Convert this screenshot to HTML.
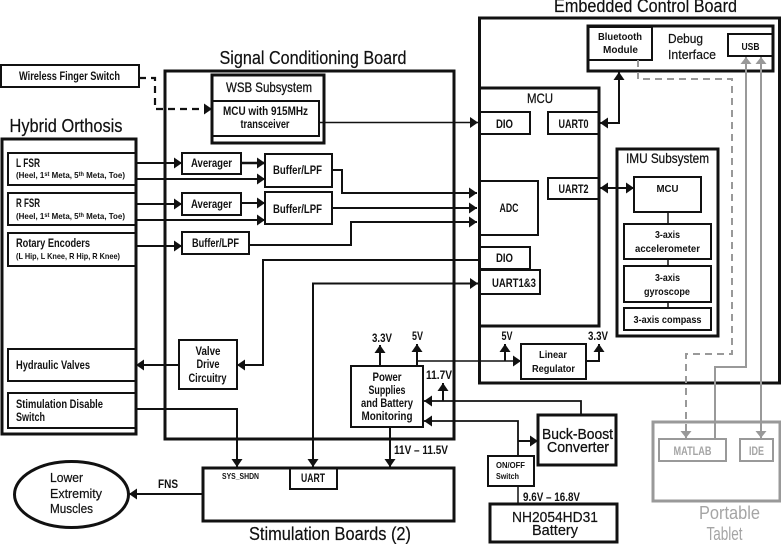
<!DOCTYPE html>
<html><head><meta charset="utf-8"><style>
html,body{margin:0;padding:0;background:#fff}
svg{display:block;filter:blur(.3px)}
text{font-family:"Liberation Sans",sans-serif;fill:#111;text-anchor:middle}
.s{font-size:10.500px;font-weight:bold}
.m{font-size:11.500px;font-weight:bold}
.t{font-size:18px;stroke:#111;stroke-width:.2px}
.l{font-size:14px;stroke:#111;stroke-width:.25px}
.g{fill:#a5a5a5;stroke:none}
rect,ellipse{fill:none;stroke:#111}
polyline{fill:none;stroke:#111}
.gr{stroke:#999}
</style></head><body>
<svg width="781" height="544" viewBox="0 0 781 544" xmlns="http://www.w3.org/2000/svg">
<defs>
<marker id="a" markerUnits="userSpaceOnUse" markerWidth="10" markerHeight="12" refX="8" refY="5.5" orient="auto"><path d="M0 0L8 5.5L0 11Z" fill="#111"/></marker>
<marker id="b" markerUnits="userSpaceOnUse" markerWidth="10" markerHeight="12" refX="0" refY="5.5" orient="auto"><path d="M8 0L0 5.5L8 11Z" fill="#111"/></marker>
<marker id="g" markerUnits="userSpaceOnUse" markerWidth="12" markerHeight="12" refX="7" refY="5.5" orient="auto"><path d="M0 0L7 5.5L0 11Z" fill="#999"/></marker>
<marker id="h" markerUnits="userSpaceOnUse" markerWidth="12" markerHeight="12" refX="0" refY="5.5" orient="auto"><path d="M7 0L0 5.5L7 11Z" fill="#999"/></marker>
</defs>

<!-- major boards -->
<rect x="479.500" y="18" width="300" height="365" stroke-width="3"/>
<rect x="165" y="71" width="289" height="368" stroke-width="3"/>
<rect x="2" y="139" width="134" height="295" stroke-width="3"/>

<!-- left column -->
<rect x="1" y="65" width="138" height="22" stroke-width="2"/>
<rect x="8" y="153" width="128" height="32" stroke-width="2"/>
<rect x="8" y="193" width="128" height="32" stroke-width="2"/>
<rect x="8" y="233" width="128" height="33" stroke-width="2"/>
<rect x="8" y="349" width="128" height="32" stroke-width="2"/>
<rect x="8" y="393" width="128" height="35" stroke-width="2"/>

<!-- signal conditioning -->
<rect x="212" y="75" width="112" height="68" stroke-width="3"/>
<rect x="212" y="101" width="107" height="35" stroke-width="2"/>
<rect x="182" y="153" width="59" height="21" stroke-width="2"/>
<rect x="265" y="154" width="67" height="33" stroke-width="2"/>
<rect x="182" y="193" width="59" height="22" stroke-width="2"/>
<rect x="265" y="192" width="67" height="32" stroke-width="2"/>
<rect x="182" y="232" width="67" height="22" stroke-width="2"/>
<rect x="179" y="340" width="58" height="49" stroke-width="2"/>
<rect x="351" y="366" width="72" height="61" stroke-width="2"/>

<!-- stim -->
<rect x="203" y="468" width="251" height="53" stroke-width="3"/>
<rect x="290" y="468" width="47" height="21" stroke-width="2"/>
<ellipse cx="71.500" cy="494.500" rx="57" ry="33" stroke-width="3"/>

<!-- embedded -->
<rect x="479.500" y="88" width="119.500" height="238" stroke-width="3"/>
<rect x="479.500" y="112" width="50.500" height="22" stroke-width="2"/>
<rect x="548" y="112" width="51" height="22" stroke-width="2"/>
<rect x="548" y="178" width="51" height="21" stroke-width="2"/>
<rect x="479.500" y="181" width="58.500" height="54" stroke-width="2"/>
<rect x="479.500" y="247" width="50.500" height="22" stroke-width="2"/>
<rect x="479.500" y="270" width="60.500" height="24" stroke-width="2"/>
<rect x="588" y="26" width="185" height="45" stroke-width="3"/>
<rect x="588" y="27" width="64" height="33" stroke-width="2"/>
<rect x="728" y="34" width="45" height="22" stroke-width="2"/>
<rect x="617" y="149" width="101" height="187" stroke-width="3"/>
<rect x="634" y="177" width="67" height="35" stroke-width="2"/>
<rect x="624" y="224" width="87" height="35" stroke-width="2"/>
<rect x="624" y="266" width="87" height="36" stroke-width="2"/>
<rect x="624" y="308" width="87" height="22" stroke-width="2"/>
<polyline points="668,212 668,224" stroke-width="1.500"/>
<polyline points="668,259 668,266" stroke-width="1.500"/>
<polyline points="668,302 668,308" stroke-width="1.500"/>
<rect x="521" y="344" width="65" height="35" stroke-width="2"/>

<!-- power -->
<rect x="538" y="415" width="78" height="50" stroke-width="3"/>
<rect x="488" y="456" width="46" height="30" stroke-width="2"/>
<rect x="490" y="504" width="127" height="38" stroke-width="3"/>

<!-- tablet -->
<rect class="gr" x="653" y="422" width="127" height="79" stroke-width="3"/>
<rect class="gr" x="659" y="439" width="67" height="22" stroke-width="2"/>
<rect class="gr" x="740" y="439" width="33" height="22" stroke-width="2"/>

<!-- connectors -->
<polyline points="139,78 155,78 155,109 212,109" stroke-width="2.200" stroke-dasharray="7 5" marker-end="url(#a)"/>
<polyline points="319,122.500 478,122.500" stroke-width="1.500" marker-end="url(#a)"/>
<polyline points="136,163 182,163" stroke-width="2" marker-end="url(#a)"/>
<polyline points="136,179 265,179" stroke-width="2" marker-end="url(#a)"/>
<polyline points="241,163 265,163" stroke-width="2.500" marker-end="url(#a)"/>
<polyline points="136,204 182,204" stroke-width="2" marker-end="url(#a)"/>
<polyline points="241,203 265,203" stroke-width="2" marker-end="url(#a)"/>
<polyline points="136,220 265,220" stroke-width="2" marker-end="url(#a)"/>
<polyline points="136,246 182,246" stroke-width="2" marker-end="url(#a)"/>
<polyline points="332,170 342,170 342,193 477,193" stroke-width="2" marker-end="url(#a)"/>
<polyline points="332,208 477,208" stroke-width="2" marker-end="url(#a)"/>
<polyline points="249,245 351,245 351,222 477,222" stroke-width="2" marker-end="url(#a)"/>
<polyline points="479,260 263,260 263,365 237,365" stroke-width="2" marker-end="url(#a)"/>
<polyline points="179,365 136,365" stroke-width="2" marker-end="url(#a)"/>
<polyline points="478,283.500 313,283.500 313,467" stroke-width="2" marker-start="url(#b)" marker-end="url(#a)"/>
<polyline points="136,409 237,409 237,467" stroke-width="2" marker-end="url(#a)"/>
<polyline points="203,494 129,494" stroke-width="2" marker-end="url(#a)"/>
<polyline points="380,366 380,345" stroke-width="2" marker-end="url(#a)"/>
<polyline points="417,366 417,344" stroke-width="2" marker-end="url(#a)"/>
<polyline points="417,361 521,361" stroke-width="1.500" marker-end="url(#a)"/>
<polyline points="505,361 505,344" stroke-width="2" marker-end="url(#a)"/>
<polyline points="586,361 599,361 599,344" stroke-width="2" marker-end="url(#a)"/>
<polyline points="443,401 443,383" stroke-width="2" marker-end="url(#a)"/>
<polyline points="581,415 581,401 424,401" stroke-width="1.800" marker-end="url(#a)"/>
<polyline points="518,456 518,421 424,421" stroke-width="1.800" marker-end="url(#a)"/>
<polyline points="518,441 538,441" stroke-width="2" marker-end="url(#a)"/>
<polyline points="518,486 518,504" stroke-width="1.500"/>
<polyline points="390,427 390,467" stroke-width="2" marker-end="url(#a)"/>
<polyline points="600,123 619,123 619,72" stroke-width="2" marker-start="url(#b)" marker-end="url(#a)"/>
<polyline points="600,188 634,188" stroke-width="2" marker-start="url(#b)" marker-end="url(#a)"/>
<polyline class="gr" points="638,60 638,79 732,79 732,354 686,354 686,438" stroke-width="2" stroke-dasharray="7 5" marker-end="url(#g)"/>
<polyline class="gr" points="715,438 715,367 746,367 746,57" stroke-width="2" marker-end="url(#g)"/>
<polyline class="gr" points="761,57 761,438" stroke-width="2" marker-start="url(#h)" marker-end="url(#g)"/>

<!-- titles -->
<text class="t" x="313" y="64" textLength="187" lengthAdjust="spacingAndGlyphs">Signal Conditioning Board</text>
<text class="t" x="645.500" y="12" textLength="183" lengthAdjust="spacingAndGlyphs">Embedded Control Board</text>
<text class="t" x="66" y="132" textLength="113" lengthAdjust="spacingAndGlyphs">Hybrid Orthosis</text>
<text class="t" x="330" y="540" textLength="162" lengthAdjust="spacingAndGlyphs">Stimulation Boards (2)</text>
<text class="t g" x="729.500" y="519" textLength="61" lengthAdjust="spacingAndGlyphs">Portable</text>
<text class="t g" x="724.500" y="540" textLength="36" lengthAdjust="spacingAndGlyphs">Tablet</text>

<!-- left column labels -->
<text class="m" x="69.500" y="80" textLength="101" lengthAdjust="spacingAndGlyphs">Wireless Finger Switch</text>
<text class="m" x="28" y="167" textLength="24" lengthAdjust="spacingAndGlyphs">L FSR</text>
<text x="70.500" y="178" font-size="8.500" font-weight="bold" textLength="109" lengthAdjust="spacingAndGlyphs">(Heel, 1<tspan font-size="6" dy="-2">st</tspan><tspan dy="2"> Meta, 5</tspan><tspan font-size="6" dy="-2">th</tspan><tspan dy="2"> Meta, Toe)</tspan></text>
<text class="m" x="28" y="207" textLength="24" lengthAdjust="spacingAndGlyphs">R FSR</text>
<text x="70.500" y="219" font-size="8.500" font-weight="bold" textLength="109" lengthAdjust="spacingAndGlyphs">(Heel, 1<tspan font-size="6" dy="-2">st</tspan><tspan dy="2"> Meta, 5</tspan><tspan font-size="6" dy="-2">th</tspan><tspan dy="2"> Meta, Toe)</tspan></text>
<text class="m" x="53" y="247" textLength="74" lengthAdjust="spacingAndGlyphs">Rotary Encoders</text>
<text x="68" y="259" font-size="8.500" font-weight="bold" textLength="104" lengthAdjust="spacingAndGlyphs">(L Hip, L Knee, R Hip, R Knee)</text>
<text class="m" x="53" y="369" textLength="74" lengthAdjust="spacingAndGlyphs">Hydraulic Valves</text>
<text class="m" x="59.500" y="408" textLength="87" lengthAdjust="spacingAndGlyphs">Stimulation Disable</text>
<text class="m" x="30.500" y="421" textLength="29" lengthAdjust="spacingAndGlyphs">Switch</text>

<!-- signal board labels -->
<text class="l" x="269" y="92" textLength="86" lengthAdjust="spacingAndGlyphs">WSB Subsystem</text>
<text class="m" x="265.500" y="115" textLength="85" lengthAdjust="spacingAndGlyphs">MCU with 915MHz</text>
<text class="m" x="265" y="128" textLength="49" lengthAdjust="spacingAndGlyphs">transceiver</text>
<text class="m" x="211.500" y="167" textLength="41" lengthAdjust="spacingAndGlyphs">Averager</text>
<text class="m" x="297.500" y="174" textLength="49" lengthAdjust="spacingAndGlyphs">Buffer/LPF</text>
<text class="m" x="211.500" y="208" textLength="41" lengthAdjust="spacingAndGlyphs">Averager</text>
<text class="m" x="297.500" y="213" textLength="49" lengthAdjust="spacingAndGlyphs">Buffer/LPF</text>
<text class="m" x="215.500" y="247" textLength="47" lengthAdjust="spacingAndGlyphs">Buffer/LPF</text>
<text class="m" x="208" y="355" textLength="25" lengthAdjust="spacingAndGlyphs">Valve</text>
<text class="m" x="208" y="368" textLength="23" lengthAdjust="spacingAndGlyphs">Drive</text>
<text class="m" x="207.500" y="382" textLength="38" lengthAdjust="spacingAndGlyphs">Circuitry</text>
<text class="m" x="387" y="381" textLength="29" lengthAdjust="spacingAndGlyphs">Power</text>
<text class="m" x="387" y="394" textLength="37" lengthAdjust="spacingAndGlyphs">Supplies</text>
<text class="m" x="387" y="407" textLength="52" lengthAdjust="spacingAndGlyphs">and Battery</text>
<text class="m" x="387" y="420" textLength="51" lengthAdjust="spacingAndGlyphs">Monitoring</text>
<text class="m" x="382" y="342" textLength="20" lengthAdjust="spacingAndGlyphs">3.3V</text>
<text class="m" x="417.500" y="340" textLength="11" lengthAdjust="spacingAndGlyphs">5V</text>
<text class="m" x="439" y="379" textLength="26" lengthAdjust="spacingAndGlyphs">11.7V</text>
<text class="m" x="421" y="454" textLength="54" lengthAdjust="spacingAndGlyphs">11V – 11.5V</text>

<!-- stim labels -->
<text x="240.500" y="479" font-size="8.500" font-weight="bold" textLength="37" lengthAdjust="spacingAndGlyphs">SYS_SHDN</text>
<text class="m" x="313" y="482" textLength="24" lengthAdjust="spacingAndGlyphs">UART</text>
<text class="m" x="168" y="488" textLength="20" lengthAdjust="spacingAndGlyphs">FNS</text>
<text x="66.500" y="482" font-size="13" stroke="#111" stroke-width=".2" textLength="33" lengthAdjust="spacingAndGlyphs">Lower</text>
<text x="76" y="498" font-size="13" stroke="#111" stroke-width=".2" textLength="52" lengthAdjust="spacingAndGlyphs">Extremity</text>
<text x="71.500" y="513" font-size="13" stroke="#111" stroke-width=".2" textLength="43" lengthAdjust="spacingAndGlyphs">Muscles</text>

<!-- embedded labels -->
<text class="l" x="540" y="103" textLength="26" lengthAdjust="spacingAndGlyphs">MCU</text>
<text class="m" x="504.500" y="128" textLength="17" lengthAdjust="spacingAndGlyphs">DIO</text>
<text class="m" x="573.500" y="128" textLength="30" lengthAdjust="spacingAndGlyphs">UART0</text>
<text class="m" x="573.500" y="193" textLength="30" lengthAdjust="spacingAndGlyphs">UART2</text>
<text class="m" x="509" y="212" textLength="19" lengthAdjust="spacingAndGlyphs">ADC</text>
<text class="m" x="504.500" y="262" textLength="17" lengthAdjust="spacingAndGlyphs">DIO</text>
<text class="m" x="514" y="287" textLength="44" lengthAdjust="spacingAndGlyphs">UART1&amp;3</text>
<text class="s" x="620" y="40" textLength="44" lengthAdjust="spacingAndGlyphs">Bluetooth</text>
<text class="s" x="620.500" y="53" textLength="35" lengthAdjust="spacingAndGlyphs">Module</text>
<text x="685.500" y="43" font-size="13" stroke="#111" stroke-width=".2" textLength="35" lengthAdjust="spacingAndGlyphs">Debug</text>
<text x="692" y="59" font-size="13" stroke="#111" stroke-width=".2" textLength="48" lengthAdjust="spacingAndGlyphs">Interface</text>
<text class="s" x="750.500" y="50" textLength="18" lengthAdjust="spacingAndGlyphs">USB</text>
<text class="l" x="667.500" y="163" textLength="83" lengthAdjust="spacingAndGlyphs">IMU Subsystem</text>
<text class="s" x="667.500" y="192" textLength="22" lengthAdjust="spacingAndGlyphs">MCU</text>
<text class="s" x="667.500" y="238" textLength="25" lengthAdjust="spacingAndGlyphs">3-axis</text>
<text class="s" x="667.500" y="252" textLength="65" lengthAdjust="spacingAndGlyphs">accelerometer</text>
<text class="s" x="667.500" y="281" textLength="25" lengthAdjust="spacingAndGlyphs">3-axis</text>
<text class="s" x="667" y="295" textLength="46" lengthAdjust="spacingAndGlyphs">gyroscope</text>
<text class="s" x="667.500" y="323" textLength="68" lengthAdjust="spacingAndGlyphs">3-axis compass</text>
<text class="s" x="553" y="358" textLength="28" lengthAdjust="spacingAndGlyphs">Linear</text>
<text class="s" x="553.500" y="372" textLength="43" lengthAdjust="spacingAndGlyphs">Regulator</text>
<text class="m" x="507" y="340" textLength="11" lengthAdjust="spacingAndGlyphs">5V</text>
<text class="m" x="598" y="340" textLength="20" lengthAdjust="spacingAndGlyphs">3.3V</text>

<!-- power labels -->
<text x="577.500" y="439" font-size="15" stroke="#111" stroke-width=".3" textLength="71" lengthAdjust="spacingAndGlyphs">Buck-Boost</text>
<text x="578" y="452" font-size="15" stroke="#111" stroke-width=".3" textLength="62" lengthAdjust="spacingAndGlyphs">Converter</text>
<text x="510.500" y="468" font-size="8.500" font-weight="bold" textLength="29" lengthAdjust="spacingAndGlyphs">ON/OFF</text>
<text x="507.500" y="479" font-size="8.500" font-weight="bold" textLength="23" lengthAdjust="spacingAndGlyphs">Switch</text>
<text class="m" x="551.500" y="501" textLength="57" lengthAdjust="spacingAndGlyphs">9.6V – 16.8V</text>
<text x="555" y="522" font-size="15" stroke="#111" stroke-width=".2" textLength="86" lengthAdjust="spacingAndGlyphs">NH2054HD31</text>
<text x="555" y="535" font-size="15" stroke="#111" stroke-width=".2" textLength="46" lengthAdjust="spacingAndGlyphs">Battery</text>

<text class="m g" x="692.500" y="455" textLength="38" lengthAdjust="spacingAndGlyphs">MATLAB</text>
<text class="m g" x="756.500" y="455" textLength="15" lengthAdjust="spacingAndGlyphs">IDE</text>
</svg>
</body></html>
